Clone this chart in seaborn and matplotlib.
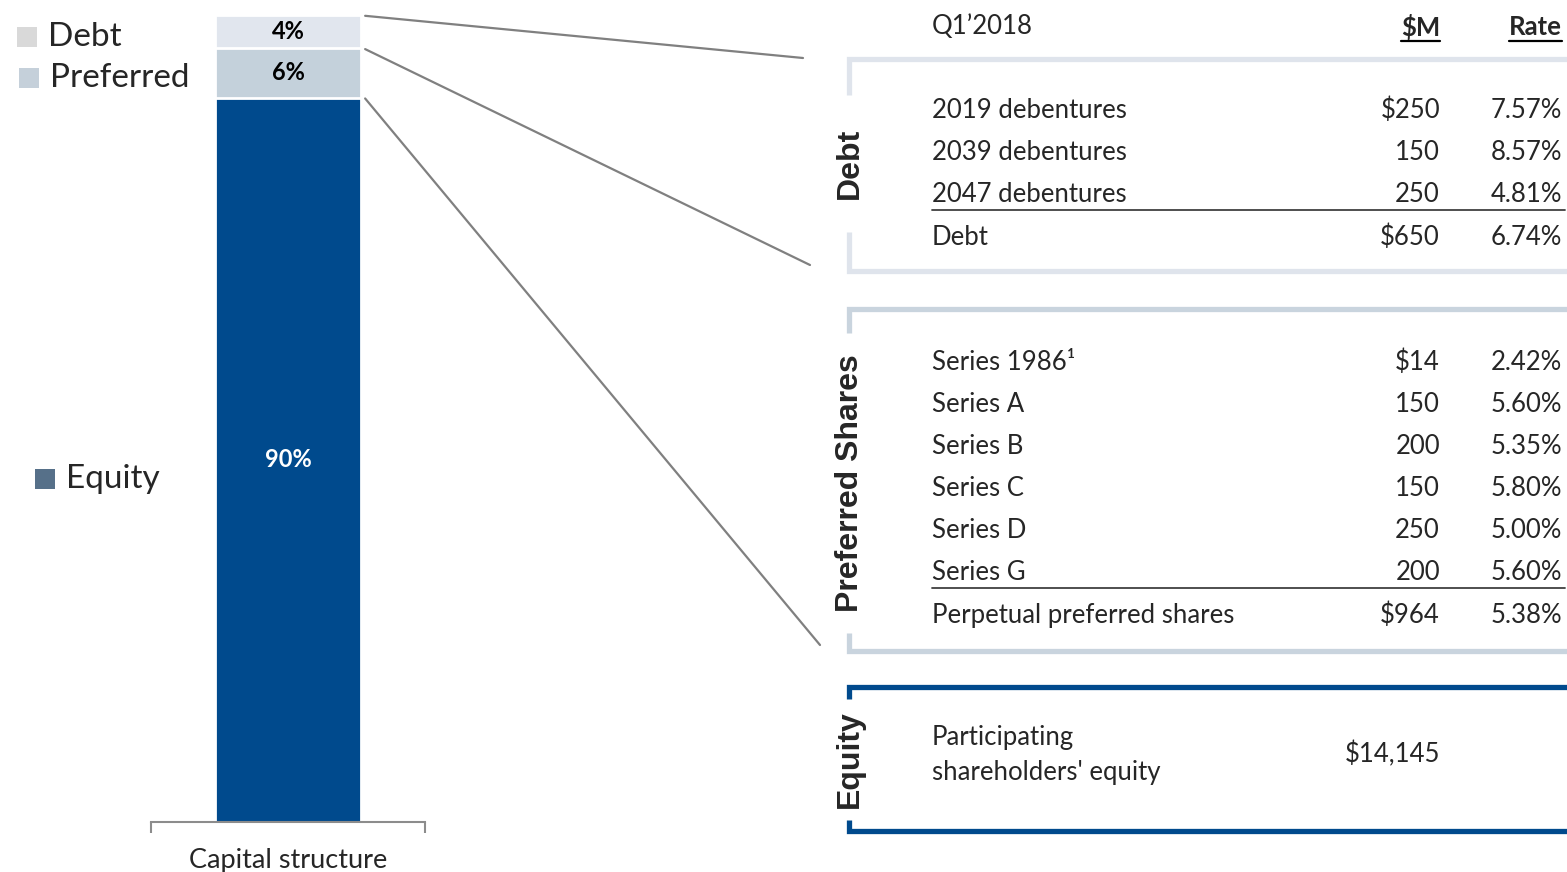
import matplotlib
matplotlib.use("Agg")
import matplotlib.pyplot as plt
import seaborn as sns
import numpy as np
from matplotlib.patches import ConnectionPatch

# Dati struttura del capitale ($M)
segments = ["Debt", "Preferred", "Equity"]
seg_values = [650, 964, 14145]
bar_colors = ["#E1E6EE", "#C4D1DB", "#004A8D"]
legend_colors = ["#D9D9D9", "#C5D0DA", "#567089"]
label_colors = ["black", "black", "white"]

# Tabella
header = ["Q1\u20192018", "$M", "Rate"]
debt_names = ["2019 debentures", "2039 debentures", "2047 debentures"]
debt_amounts = [250, 150, 250]
debt_rates = [7.57, 8.57, 4.81]
debt_total = ("Debt", 650, 6.74)

pref_names = ["Series 1986\u00b9", "Series A", "Series B", "Series C", "Series D", "Series G"]
pref_amounts = [14, 150, 200, 150, 250, 200]
pref_rates = [2.42, 5.60, 5.35, 5.80, 5.00, 5.60]
pref_total = ("Perpetual preferred shares", 964, 5.38)

equity_name = "Participating\nshareholders' equity"
equity_amount = 14145

sns.set_style("white")
plt.rcParams["font.family"] = ["Lato", "DejaVu Sans"]

W, H = 1567, 872
fig = plt.figure(figsize=(W / 100, H / 100), dpi=100)

# --- barra impilata ---
ax = fig.add_axes([151 / W, (H - 822) / H, 274 / W, 807 / H])
total = sum(seg_values)
pcts = np.array(seg_values) / total * 100
tops = np.cumsum(pcts[::-1])[::-1]  # top di ogni segmento: debt=100, pref, equity
cat = ["Capital structure"]
for i in range(len(segments)):
    sns.barplot(x=cat, y=[tops[i]], color=bar_colors[i], width=0.533,
                edgecolor="white", linewidth=2, saturation=1, ax=ax)
ax.set_ylim(0, 100)
ax.set_xlim(-0.5, 0.5)
for i in range(len(segments)):
    mid = tops[i] - pcts[i] / 2
    ax.text(0, mid, f"{pcts[i]:.0f}%", ha="center", va="center",
            fontsize=17, fontweight="bold", color=label_colors[i])
ax.set_yticks([])
ax.set_ylabel("")
ax.set_xlabel("")
ax.set_xticks([0], cat)
ax.set_xticks([-0.5, 0.5], minor=True)
ax.tick_params(axis="x", which="major", length=0, labelsize=19.5, pad=19)
ax.tick_params(axis="x", which="minor", bottom=True, length=8, width=1.5,
               color="#8C8C8C", direction="out")
for s in ["left", "top", "right"]:
    ax.spines[s].set_visible(False)
ax.spines["bottom"].set_color("#8C8C8C")
ax.spines["bottom"].set_linewidth(1.5)

# --- overlay in pixel ---
ov = fig.add_axes([0, 0, 1, 1])
ov.set_xlim(0, W)
ov.set_ylim(H, 0)
ov.axis("off")
ov.patch.set_visible(False)

# legenda
leg_pos = [(17, 36), (19, 77), (35, 478)]
for (lx, ly), name, c in zip(leg_pos, segments, legend_colors):
    ov.add_patch(plt.Rectangle((lx, ly - 9), 20, 20, color=c, lw=0))
    ov.text(lx + 31, ly + 1, name, ha="left", va="center", fontsize=24, color="#262626")

# connettori
bar_right = 0.533 / 2 + 0.015
conn_ends = [(803, 58), (810, 265), (820, 645)]
for i, end in enumerate(conn_ends):
    con = ConnectionPatch(xyA=(bar_right, tops[i] - 0.1), coordsA=ax.transData,
                          xyB=end, coordsB=ov.transData, color="#808080", lw=1.6)
    fig.add_artist(con)

# tabella
fs = 18.5
x_name, x_amt, x_rate = 932, 1440, 1562
ov.text(x_name, 27, header[0], ha="left", va="center", fontsize=fs)
hdr_texts = [ov.text(x_amt, 27, header[1], ha="right", va="center", fontsize=fs, fontweight="bold"),
             ov.text(x_rate, 27, header[2], ha="right", va="center", fontsize=fs, fontweight="bold")]


def rows(names, amounts, rates, y0, tot):
    y = y0
    for j, (n, a, r) in enumerate(zip(names, amounts, rates)):
        amt = f"${a:,}" if j == 0 else f"{a:,}"
        ov.text(x_name, y, n, ha="left", va="center", fontsize=fs)
        ov.text(x_amt, y, amt, ha="right", va="center", fontsize=fs)
        ov.text(x_rate, y, f"{r:.2f}%", ha="right", va="center", fontsize=fs)
        y += 42
    ov.plot([x_name, 1565], [y - 26, y - 26], color="#404040", lw=1.3)
    ov.text(x_name, y + 1, tot[0], ha="left", va="center", fontsize=fs)
    ov.text(x_amt, y + 1, f"${tot[1]:,}", ha="right", va="center", fontsize=fs)
    ov.text(x_rate, y + 1, f"{tot[2]:.2f}%", ha="right", va="center", fontsize=fs)


rows(debt_names, debt_amounts, debt_rates, 110, debt_total)
rows(pref_names, pref_amounts, pref_rates, 362, pref_total)
ov.text(x_name, 755, equity_name, ha="left", va="center", fontsize=fs, linespacing=1.5)
ov.text(x_amt, 754, f"${equity_amount:,}", ha="right", va="center", fontsize=fs)


# parentesi laterali
def bracket(top, bottom, gap_top, gap_bottom, color, label, lw=3.8):
    kw = dict(color=color, lw=lw, solid_capstyle="butt", solid_joinstyle="miter")
    ov.plot([W + 5, 849, 849], [top, top, gap_top], **kw)
    ov.plot([849, 849, W + 5], [gap_bottom, bottom, bottom], **kw)
    ov.text(850, (gap_top + gap_bottom) / 2, label, rotation=90, ha="center", va="center",
            fontsize=23, fontweight="bold", family=["Liberation Sans", "DejaVu Sans"])


bracket(59, 271, 95, 232, "#DFE4EC", "Debt")
bracket(309, 651, 333, 633, "#C9D4DE", "Preferred Shares")
bracket(687, 831, 699, 820, "#004A8D", "Equity")

# sottolineature intestazioni
fig.canvas.draw()
inv = ov.transData.inverted()
for t in hdr_texts:
    bb = t.get_window_extent()
    (x0, _), (x1, _) = inv.transform([[bb.x0, bb.y0], [bb.x1, bb.y1]])
    ov.plot([x0, x1], [41, 41], color="black", lw=1.6)

fig.savefig("out.png", dpi=100)
